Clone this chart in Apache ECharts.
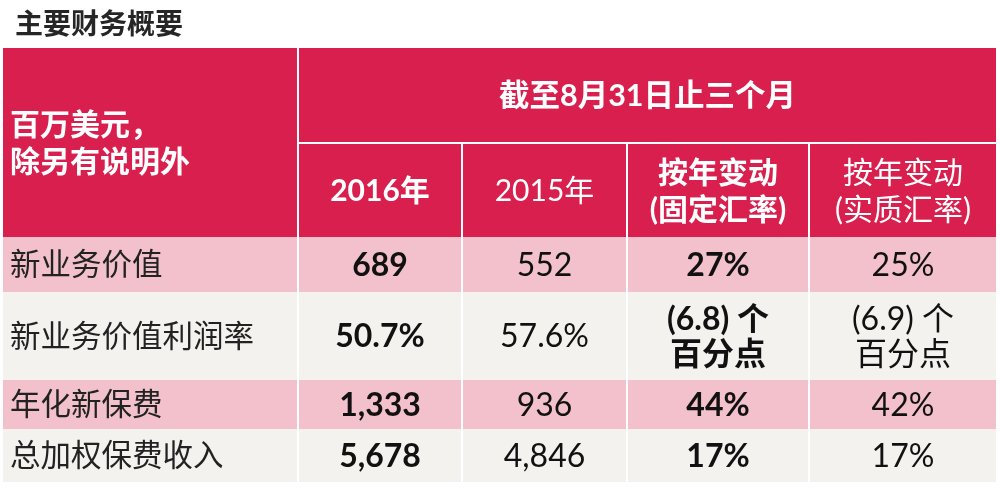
<!DOCTYPE html>
<html><head><meta charset="utf-8">
<script src="https://cdn.jsdelivr.net/npm/echarts@6/dist/echarts.min.js"></script>
<style>html,body{margin:0;padding:0;background:#fff}#c{width:1000px;height:497px}</style>
</head><body><div id="c"></div>
<script>
// ---- data ----
const title = '主要财务概要';
const unitHeader = '百万美元，\n除另有说明外';
const periodHeader = '截至8月31日止三个月';
const colHeaders = ['2016年', '2015年', '按年变动\n(固定汇率)', '按年变动\n(实质汇率)'];
const colBold = [true, false, true, false];
const rowLabels = ['新业务价值', '新业务价值利润率', '年化新保费', '总加权保费收入'];
const v2016 = ['689', '50.7%', '1,333', '5,678'];
const v2015 = ['552', '57.6%', '936', '4,846'];
const chgConstant = ['27%', '(6.8) 个\n百分点', '44%', '17%'];
const chgActual = ['25%', '(6.9) 个\n百分点', '42%', '17%'];

// ---- layout (table grid edges in axis units) ----
const colEdges = [0, 295, 459, 624, 806, 993];
const rowEdges = [0, 95, 189, 244, 332, 381, 434];
const RED = '#d81f4e', PINK = '#f3c1cb', OFF = '#f4f2ee';
const FONT = "'Lato','Noto Sans CJK SC',sans-serif";

const cells = [];
function addCell(c0, c1, r0, r1, text, opt) {
  cells.push(Object.assign({ value: [colEdges[c0], colEdges[c1], rowEdges[r0], rowEdges[r1]], c0, c1, r0, r1, text }, opt));
}
addCell(0, 1, 0, 2, unitHeader, { fill: RED, color: '#fff', bold: true, align: 'left', size: 30, lh: 37 });
addCell(1, 5, 0, 1, periodHeader, { fill: RED, color: '#fff', bold: true, size: 30.5 });
colHeaders.forEach((h, i) => addCell(i + 1, i + 2, 1, 2, h, { fill: RED, color: '#fff', bold: colBold[i], size: 30, lh: 37 }));
const cols = [v2016, v2015, chgConstant, chgActual];
rowLabels.forEach((lab, r) => {
  const fill = r % 2 === 0 ? PINK : OFF;
  addCell(0, 1, r + 2, r + 3, lab, { fill, color: '#222', bold: false, align: 'left', size: 30.5 });
  cols.forEach((arr, i) => addCell(i + 1, i + 2, r + 2, r + 3, arr[r], { fill, color: '#111', bold: colBold[i], size: 32, lh: 35 }));
});

const chart = echarts.init(document.getElementById('c'), null, { renderer: 'canvas' });
chart.setOption({
  animation: false,
  backgroundColor: '#fff',
  title: { text: title, left: 10, top: 4, textStyle: { fontSize: 28, fontWeight: 'bold', color: '#262626', fontFamily: "'Noto Sans CJK SC',sans-serif" } },
  grid: { left: 3, right: 4, top: 48, bottom: 15 },
  xAxis: { type: 'value', min: 0, max: 993, show: false },
  yAxis: { type: 'value', min: 0, max: 434, inverse: true, show: false },
  series: [{
    type: 'custom',
    coordinateSystem: 'cartesian2d',
    data: cells,
    encode: { x: [0, 1], y: [2, 3] },
    renderItem: function (params, api) {
      const d = cells[params.dataIndex];
      const p0 = api.coord([api.value(0), api.value(2)]);
      const p1 = api.coord([api.value(1), api.value(3)]);
      let x0 = p0[0], y0 = p0[1], x1 = p1[0], y1 = p1[1];
      if (d.c0 > 0) x0 += 1;
      if (d.c1 < colEdges.length - 1) x1 -= 1;
      if (d.r0 === 1) y0 += 1;
      if (d.r1 === 1) y1 -= 1;
      const tx = d.align === 'left' ? x0 + 7 : (x0 + x1) / 2;
      return {
        type: 'group',
        children: [
          { type: 'rect', shape: { x: x0, y: y0, width: x1 - x0, height: y1 - y0 }, style: { fill: d.fill } },
          { type: 'text', style: {
              text: d.text, x: tx, y: (y0 + y1) / 2 + 1,
              align: d.align === 'left' ? 'left' : 'center', verticalAlign: 'middle',
              fill: d.color, fontSize: d.size, fontWeight: d.bold ? 'bold' : 'normal',
              fontFamily: FONT, lineHeight: d.lh || d.size * 1.2
          } }
        ]
      };
    }
  }]
});
</script></body></html>
